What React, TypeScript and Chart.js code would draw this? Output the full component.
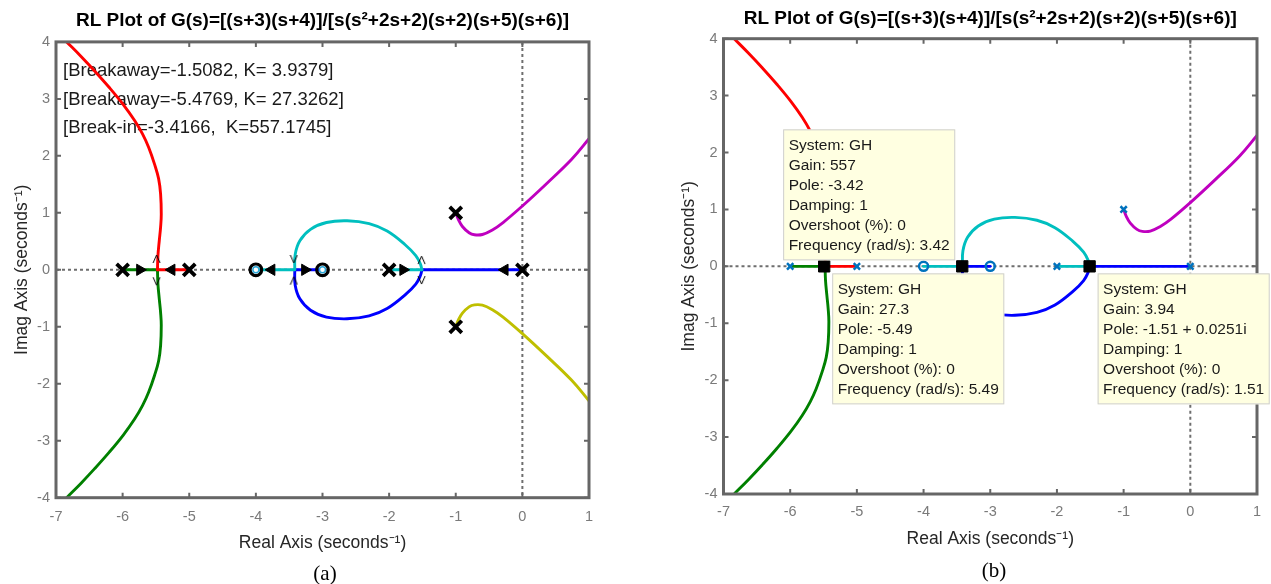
import React, { useEffect, useRef } from 'react';
import { Chart, registerables } from 'chart.js';

Chart.register(...registerables);

// ---------------- text ----------------
const TITLE = 'RL Plot of G(s)=[(s+3)(s+4)]/[s(s²+2s+2)(s+2)(s+5)(s+6)]';
const X_TITLE = 'Real Axis (seconds⁻¹)';
const Y_TITLE = 'Imag Axis (seconds⁻¹)';

const xTickValues = [-7, -6, -5, -4, -3, -2, -1, 0, 1];
const xTickLabels = ['-7', '-6', '-5', '-4', '-3', '-2', '-1', '0', '1'];
const yTickValues = [-4, -3, -2, -1, 0, 1, 2, 3, 4];
const yTickLabels = ['-4', '-3', '-2', '-1', '0', '1', '2', '3', '4'];

// ---------------- poles / zeros ----------------
const poleRe = [0, -1, -1, -2, -5, -6];
const poleIm = [0, 1, -1, 0, 0, 0];
const zeroRe = [-3, -4];
const zeroIm = [0, 0];

// ---------------- branches ----------------
const redAxisRe = [-5, -5.4769];
const redAxisIm = [0, 0];
const redRe = [-5.4769, -5.47, -5.45, -5.43, -5.42, -5.43, -5.46, -5.52, -5.61, -5.7, -5.82, -5.99, -6.2, -6.42, -6.62, -6.84];
const redIm = [0, 0.25, 0.51, 0.75, 0.975, 1.33, 1.6, 1.85, 2.15, 2.38, 2.62, 2.9, 3.2, 3.49, 3.74, 4.0];

const greenAxisRe = [-6, -5.4769];
const greenAxisIm = [0, 0];
const greenRe = [-5.4769, -5.47, -5.45, -5.43, -5.42, -5.43, -5.46, -5.52, -5.61, -5.7, -5.82, -5.99, -6.2, -6.42, -6.62, -6.84];
const greenIm = [0, -0.25, -0.51, -0.75, -0.975, -1.33, -1.6, -1.85, -2.15, -2.38, -2.62, -2.9, -3.2, -3.49, -3.74, -4.0];

const cyanAxis1Re = [-2, -1.5082];
const cyanAxis1Im = [0, 0];
const cyanAxis2Re = [-3.4166, -4];
const cyanAxis2Im = [0, 0];
const cyanRe = [-1.5082, -1.53, -1.6, -1.76, -2.03, -2.3, -2.63, -2.94, -3.18, -3.34, -3.41, -3.4166];
const cyanIm = [0, 0.1, 0.25, 0.44, 0.68, 0.81, 0.86, 0.83, 0.71, 0.51, 0.27, 0];

const blueAxis1Re = [0, -1.5082];
const blueAxis1Im = [0, 0];
const blueAxis2Re = [-3.4166, -3];
const blueAxis2Im = [0, 0];
const blueRe = [-1.5082, -1.53, -1.6, -1.76, -2.03, -2.3, -2.63, -2.94, -3.18, -3.34, -3.41, -3.4166];
const blueIm = [0, -0.1, -0.25, -0.44, -0.68, -0.81, -0.86, -0.83, -0.71, -0.51, -0.27, 0];

const magentaRe = [-1, -0.96, -0.9, -0.8, -0.72, -0.6, -0.45, -0.29, 0, 0.37, 0.74, 1.0];
const magentaIm = [1, 0.88, 0.76, 0.65, 0.615, 0.62, 0.7, 0.83, 1.12, 1.52, 1.94, 2.3];
const yellowRe = [-1, -0.96, -0.9, -0.8, -0.72, -0.6, -0.45, -0.29, 0, 0.37, 0.74, 1.0];
const yellowIm = [-1, -0.88, -0.76, -0.65, -0.615, -0.62, -0.7, -0.83, -1.12, -1.52, -1.94, -2.3];

// direction arrows (plot a)
const arrowRightRe = [-5.74, -3.264, -1.79];
const arrowLeftRe = [-5.264, -3.764, -0.264];
const chevUpRe = [-5.49, -1.513, -3.43];
const chevUpIm = [0.19, 0.17, -0.19];
const chevDownRe = [-5.49, -1.513, -3.43];
const chevDownIm = [-0.2, -0.18, 0.19];

// annotations (plot a)
const annotationTexts = [
  '[Breakaway=-1.5082, K= 3.9379]',
  '[Breakaway=-5.4769, K= 27.3262]',
  '[Break-in=-3.4166,  K=557.1745]',
];
const annotationRe = -6.895;
const annotationIm = [3.485, 2.977, 2.487];

// data tips (plot b)
const tipRe = [-3.42, -5.49, -1.51];
const tipIm = [0, 0, 0];
const tipPlace = ['upleft', 'downright', 'downright'];
const tipLines = [
  ['System: GH', 'Gain: 557', 'Pole: -3.42', 'Damping: 1', 'Overshoot (%): 0', 'Frequency (rad/s): 3.42'],
  ['System: GH', 'Gain: 27.3', 'Pole: -5.49', 'Damping: 1', 'Overshoot (%): 0', 'Frequency (rad/s): 5.49'],
  ['System: GH', 'Gain: 3.94', 'Pole: -1.51 + 0.0251i', 'Damping: 1', 'Overshoot (%): 0', 'Frequency (rad/s): 1.51'],
];

// ---------------- styling ----------------
const FONT = "'Liberation Sans', Arial, Helvetica, sans-serif";
const FRAME = '#666666';
const TICK_COLOR = '#7a7a7a';
const C_RED = '#ff0000';
const C_GREEN = '#008000';
const C_CYAN = '#00bfbf';
const C_BLUE = '#0000ff';
const C_MAG = '#bf00bf';
const C_YEL = '#bfbf00';
const C_MBLUE = '#0072bd';

const pts = (re: number[], im: number[]) => re.map((x, i) => ({ x, y: im[i] }));

function makeChevron(up: boolean) {
  const c = document.createElement('canvas');
  c.width = 9;
  c.height = 10;
  const g = c.getContext('2d')!;
  g.strokeStyle = '#000';
  g.lineWidth = 1;
  g.beginPath();
  if (up) {
    g.moveTo(1, 9);
    g.lineTo(4.5, 1);
    g.lineTo(8, 9);
  } else {
    g.moveTo(1, 1);
    g.lineTo(4.5, 9);
    g.lineTo(8, 1);
  }
  g.stroke();
  return c;
}

const rlPlugin = {
  id: 'rl',
  beforeDatasetsDraw(chart: any, _args: any, opts: any) {
    const { ctx, chartArea } = chart;
    const { left, right, top, bottom } = chartArea;
    const xs = chart.scales.x;
    const ys = chart.scales.y;
    ctx.save();
    ctx.strokeStyle = '#6e6e6e';
    ctx.lineWidth = 2;
    ctx.setLineDash([3, 3]);
    const y0 = ys.getPixelForValue(0);
    const x0 = xs.getPixelForValue(0);
    ctx.beginPath();
    ctx.moveTo(left, y0);
    ctx.lineTo(right, y0);
    ctx.moveTo(x0, top);
    ctx.lineTo(x0, bottom);
    ctx.stroke();
    ctx.setLineDash([]);
    if (opts.annotations) {
      ctx.fillStyle = '#1a1a1a';
      ctx.font = `18.5px ${FONT}`;
      ctx.textBaseline = 'middle';
      ctx.textAlign = 'left';
      annotationTexts.forEach((t, i) => {
        ctx.fillText(t, xs.getPixelForValue(annotationRe), ys.getPixelForValue(annotationIm[i]));
      });
    }
    ctx.restore();
  },
  afterDatasetsDraw(chart: any, _args: any, opts: any) {
    const { ctx, chartArea } = chart;
    const { left, right, top, bottom } = chartArea;
    const xs = chart.scales.x;
    const ys = chart.scales.y;
    ctx.save();
    ctx.strokeStyle = FRAME;
    ctx.lineWidth = 2;
    ctx.beginPath();
    xTickValues.forEach((v) => {
      const p = xs.getPixelForValue(v);
      ctx.moveTo(p, bottom);
      ctx.lineTo(p, bottom - 5);
      ctx.moveTo(p, top);
      ctx.lineTo(p, top + 5);
    });
    yTickValues.forEach((v) => {
      const p = ys.getPixelForValue(v);
      ctx.moveTo(left, p);
      ctx.lineTo(left + 5, p);
      ctx.moveTo(right, p);
      ctx.lineTo(right - 5, p);
    });
    ctx.stroke();
    ctx.lineWidth = 3;
    ctx.strokeRect(left, top, right - left, bottom - top);

    if (opts.tips) {
      ctx.font = `15.5px ${FONT}`;
      ctx.textBaseline = 'middle';
      ctx.textAlign = 'left';
      tipRe.forEach((re, k) => {
        const px = xs.getPixelForValue(re);
        const py = ys.getPixelForValue(tipIm[k]);
        const lines = tipLines[k];
        const w = Math.max(...lines.map((l) => ctx.measureText(l).width)) + 11;
        const h = lines.length * 20 + 11;
        let bx: number;
        let by: number;
        if (tipPlace[k] === 'upleft') {
          bx = px - 7 - w;
          by = py - 6 - h;
        } else {
          bx = px + 8;
          by = py + 7;
        }
        ctx.fillStyle = '#ffffe1';
        ctx.fillRect(bx, by, w, h);
        ctx.strokeStyle = '#cfcfcf';
        ctx.lineWidth = 1;
        ctx.strokeRect(bx + 0.5, by + 0.5, w - 1, h - 1);
        ctx.fillStyle = '#1a1a1a';
        lines.forEach((l, i) => ctx.fillText(l, bx + 5.5, by + 16 + i * 20));
      });
    }
    ctx.restore();
  },
};

function lineDs(data: any[], color: string, tension = 0.4) {
  return {
    data,
    showLine: true,
    borderColor: color,
    backgroundColor: color,
    borderWidth: 2.9,
    pointRadius: 0,
    tension,
    borderCapStyle: 'round',
    borderJoinStyle: 'round',
    order: 3,
  };
}

function branchDatasets() {
  return [
    lineDs(pts(redAxisRe, redAxisIm), C_RED, 0),
    lineDs(pts(redRe, redIm), C_RED),
    lineDs(pts(greenAxisRe, greenAxisIm), C_GREEN, 0),
    lineDs(pts(greenRe, greenIm), C_GREEN),
    lineDs(pts(cyanAxis1Re, cyanAxis1Im), C_CYAN, 0),
    lineDs(pts(cyanAxis2Re, cyanAxis2Im), C_CYAN, 0),
    lineDs(pts(cyanRe, cyanIm), C_CYAN),
    lineDs(pts(blueAxis1Re, blueAxis1Im), C_BLUE, 0),
    lineDs(pts(blueAxis2Re, blueAxis2Im), C_BLUE, 0),
    lineDs(pts(blueRe, blueIm), C_BLUE),
    lineDs(pts(magentaRe, magentaIm), C_MAG),
    lineDs(pts(yellowRe, yellowIm), C_YEL),
  ];
}

function markerDs(data: any[], extra: any) {
  return {
    data,
    showLine: false,
    order: 1,
    ...extra,
  };
}

interface Geo {
  yWidth: number;
  xHeight: number;
  padRight: number;
  titleTop: number;
  titleBottom: number;
  yTitlePad: number;
  xTitlePad: number;
  xTickPad: number;
}

function makeConfig(variant: 'a' | 'b', geo: Geo) {
  const datasets: any[] = [];
  if (variant === 'a') {
    const chevUp = makeChevron(true);
    const chevDown = makeChevron(false);
    datasets.push(
      markerDs(pts(poleRe, poleIm), {
        pointStyle: 'crossRot', pointRadius: 8.5, borderWidth: 3.8, borderColor: '#000', backgroundColor: '#000',
      }),
      markerDs(pts(zeroRe, zeroIm), {
        pointStyle: 'circle', pointRadius: 5.8, borderWidth: 3.2, borderColor: '#000', backgroundColor: 'rgba(0,0,0,0)',
      }),
      markerDs(pts(zeroRe, zeroIm), {
        pointStyle: 'circle', pointRadius: 3, borderWidth: 1.5, borderColor: '#2aa6d6', backgroundColor: '#ffffff', order: 0,
      }),
      markerDs(pts(arrowRightRe, arrowRightRe.map(() => 0)), {
        pointStyle: 'triangle', rotation: 90, pointRadius: 6.5, borderWidth: 1, borderColor: '#000', backgroundColor: '#000',
      }),
      markerDs(pts(arrowLeftRe, arrowLeftRe.map(() => 0)), {
        pointStyle: 'triangle', rotation: -90, pointRadius: 6.5, borderWidth: 1, borderColor: '#000', backgroundColor: '#000',
      }),
      markerDs(pts(chevUpRe, chevUpIm), { pointStyle: chevUp, pointRadius: 5 }),
      markerDs(pts(chevDownRe, chevDownIm), { pointStyle: chevDown, pointRadius: 5 }),
    );
  } else {
    datasets.push(
      markerDs(pts(poleRe, poleIm), {
        pointStyle: 'crossRot', pointRadius: 4.5, borderWidth: 2.5, borderColor: C_MBLUE, backgroundColor: C_MBLUE,
      }),
      markerDs(pts(zeroRe, zeroIm), {
        pointStyle: 'circle', pointRadius: 4.5, borderWidth: 2.5, borderColor: C_MBLUE, backgroundColor: 'rgba(0,0,0,0)',
      }),
      markerDs(pts(tipRe, tipIm), {
        pointStyle: 'rect', pointRadius: 8, borderWidth: 1, borderColor: '#000', backgroundColor: '#000', order: 0,
      }),
    );
  }
  datasets.push(...branchDatasets());

  return {
    type: 'scatter',
    data: { datasets },
    plugins: [rlPlugin],
    options: {
      responsive: false,
      maintainAspectRatio: false,
      animation: false,
      devicePixelRatio: 1,
      layout: { padding: { left: 0, right: geo.padRight, top: 0, bottom: 0 } },
      plugins: {
        legend: { display: false },
        tooltip: { enabled: false },
        title: {
          display: true,
          text: TITLE,
          fullSize: false,
          color: '#000',
          font: { family: FONT, size: 19, weight: 'bold' },
          padding: { top: geo.titleTop, bottom: geo.titleBottom },
        },
        rl: { annotations: variant === 'a', tips: variant === 'b' },
      },
      scales: {
        x: {
          type: 'linear',
          position: 'bottom',
          min: -7,
          max: 1,
          afterBuildTicks: (s: any) => {
            s.ticks = xTickValues.map((v) => ({ value: v }));
          },
          afterFit: (s: any) => {
            s.height = geo.xHeight;
          },
          ticks: {
            autoSkip: false,
            maxRotation: 0,
            color: TICK_COLOR,
            padding: geo.xTickPad,
            font: { family: FONT, size: 14.5 },
            callback: (v: any) => xTickLabels[xTickValues.indexOf(Number(v))],
          },
          grid: { display: false, drawTicks: false, tickLength: 0 },
          border: { display: false },
          title: {
            display: true,
            text: X_TITLE,
            color: '#262626',
            font: { family: FONT, size: 17.5 },
            padding: { top: 0, bottom: geo.xTitlePad },
          },
        },
        y: {
          type: 'linear',
          position: 'left',
          min: -4,
          max: 4,
          afterBuildTicks: (s: any) => {
            s.ticks = yTickValues.map((v) => ({ value: v }));
          },
          afterFit: (s: any) => {
            s.width = geo.yWidth;
          },
          ticks: {
            autoSkip: false,
            color: TICK_COLOR,
            padding: 6,
            font: { family: FONT, size: 14.5 },
            callback: (v: any) => yTickLabels[yTickValues.indexOf(Number(v))],
          },
          grid: { display: false, drawTicks: false, tickLength: 0 },
          border: { display: false },
          title: {
            display: true,
            text: Y_TITLE,
            color: '#262626',
            font: { family: FONT, size: 17.5 },
            padding: { top: geo.yTitlePad, bottom: 0 },
          },
        },
      },
    },
  };
}

const geoA: Geo = {
  yWidth: 56,
  xHeight: 86.3,
  padRight: 51,
  titleTop: 9.7,
  titleBottom: 9.4,
  yTitlePad: 11.5,
  xTitlePad: 30.5,
  xTickPad: 10.4,
};
const geoB: Geo = {
  yWidth: 83.5,
  xHeight: 90,
  padRight: 14,
  titleTop: 7.5,
  titleBottom: 8.4,
  yTitlePad: 38.8,
  xTitlePad: 34.5,
  xTickPad: 9.7,
};

export default function App() {
  const refA = useRef<HTMLCanvasElement>(null);
  const refB = useRef<HTMLCanvasElement>(null);

  useEffect(() => {
    const a = new Chart(refA.current!, makeConfig('a', geoA) as any);
    const b = new Chart(refB.current!, makeConfig('b', geoB) as any);
    return () => {
      a.destroy();
      b.destroy();
    };
  }, []);

  const capStyle: React.CSSProperties = {
    position: 'absolute',
    width: 60,
    textAlign: 'center',
    fontFamily: "'Liberation Serif', 'Times New Roman', serif",
    fontSize: 21,
    lineHeight: '24px',
    color: '#000',
  };

  return (
    <div style={{ position: 'absolute', left: 0, top: 0, width: 1271, height: 584, background: '#fff', overflow: 'hidden' }}>
      <canvas ref={refA} width={640} height={584} style={{ position: 'absolute', left: 0, top: 0 }} />
      <canvas ref={refB} width={631} height={584} style={{ position: 'absolute', left: 640, top: 0 }} />
      <div style={{ ...capStyle, left: 325 - 30, top: 573 - 12 }}>(a)</div>
      <div style={{ ...capStyle, left: 994 - 30, top: 570 - 12 }}>(b)</div>
    </div>
  );
}
